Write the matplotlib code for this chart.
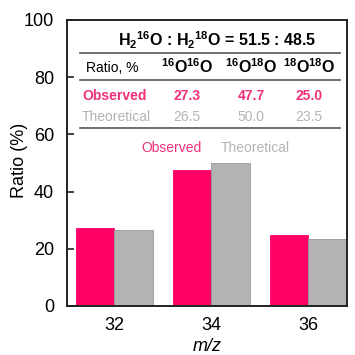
import matplotlib
matplotlib.use("Agg")
import matplotlib.pyplot as plt
import numpy as np

plt.rcParams['font.family'] = ['Liberation Sans', 'DejaVu Sans']
plt.rcParams['mathtext.fontset'] = 'custom'
plt.rcParams['mathtext.rm'] = 'Liberation Sans'
plt.rcParams['mathtext.bf'] = 'Liberation Sans:bold'
plt.rcParams['mathtext.it'] = 'Liberation Sans:italic'

# m/z channels and isotope ratios (%)
mz_labels = ['32', '34', '36']
observed = [27.3, 47.7, 25.0]
theoretical = [26.5, 50.0, 23.5]
species = [r'$\mathbf{{}^{16}O{}^{16}O}$', r'$\mathbf{{}^{16}O{}^{18}O}$', r'$\mathbf{{}^{18}O{}^{18}O}$']
title_text = r'$\mathbf{H_2{}^{16}O}$ : $\mathbf{H_2{}^{18}O}$ = 51.5 : 48.5'

PINK = '#ff0066'
GRAY = '#b3b3b3'
PINK_TXT = '#f0307a'
GRAY_TXT = '#b4b4b4'

W = H = 355
fig = plt.figure(figsize=(3.55, 3.55), dpi=100)
ax_l, ax_r, ax_t, ax_b = 66.7, 347, 20, 306
ax = fig.add_axes([ax_l / W, 1 - ax_b / H, (ax_r - ax_l) / W, (ax_b - ax_t) / H])

x = np.arange(len(mz_labels))
w = 0.397
ax.bar(x - w / 2, observed, width=w, color=PINK, edgecolor=PINK, linewidth=0.6)
ax.bar(x + w / 2, theoretical, width=w, color=GRAY, edgecolor='#9a9a9a', linewidth=0.6)

ax.set_xlim(-0.488, 2.40)
ax.set_ylim(0, 100)
ax.set_xticks(x)
ax.set_xticklabels(mz_labels, fontsize=13)
ax.set_yticks([0, 20, 40, 60, 80, 100])
ax.tick_params(axis='y', direction='in', length=5, width=1.2, labelsize=13, pad=9, color='#222222')
ax.tick_params(axis='x', length=0, labelsize=13, pad=8)
for s in ax.spines.values():
    s.set_linewidth(1.4)
    s.set_color('#222222')

fig.text(20 / W, 1 - 160 / H, 'Ratio (%)', rotation=90, ha='center', va='center', fontsize=13)
ax.set_xlabel('m/z', fontsize=13, style='italic', labelpad=3)


def pos(px, py):
    return ((px - ax_l) / (ax_r - ax_l), (ax_b - py) / (ax_b - ax_t))


T = ax.transAxes
ax.text(*pos(217, 40), title_text, transform=T, ha='center', va='center',
        fontsize=11.5, fontweight='bold')

for py in (53, 80, 128):
    x0, y0 = pos(80, py)
    x1, _ = pos(340, py)
    ax.plot([x0, x1], [y0, y0], transform=T, color='#555555', lw=1.2, clip_on=False)

col_x = [187, 251, 309]
ax.text(*pos(86, 68), 'Ratio, %', transform=T, ha='left', va='center', fontsize=10)
for cx, sp in zip(col_x, species):
    ax.text(*pos(cx, 67), sp, transform=T, ha='center', va='center', fontsize=11.5)

ax.text(*pos(82, 96), 'Observed', transform=T, ha='left', va='center',
        fontsize=10, fontweight='bold', color=PINK_TXT)
ax.text(*pos(82, 117), 'Theoretical', transform=T, ha='left', va='center',
        fontsize=10, color=GRAY_TXT)
for cx, vo, vt in zip(col_x, observed, theoretical):
    ax.text(*pos(cx, 96), f'{vo:.1f}', transform=T, ha='center', va='center',
            fontsize=10, fontweight='bold', color=PINK_TXT)
    ax.text(*pos(cx, 117), f'{vt:.1f}', transform=T, ha='center', va='center',
            fontsize=10, color=GRAY_TXT)

ax.text(*pos(171, 148), 'Observed', transform=T, ha='center', va='center',
        fontsize=10, color=PINK_TXT)
ax.text(*pos(255, 148), 'Theoretical', transform=T, ha='center', va='center',
        fontsize=10, color=GRAY_TXT)

fig.savefig('out.png', dpi=100)
